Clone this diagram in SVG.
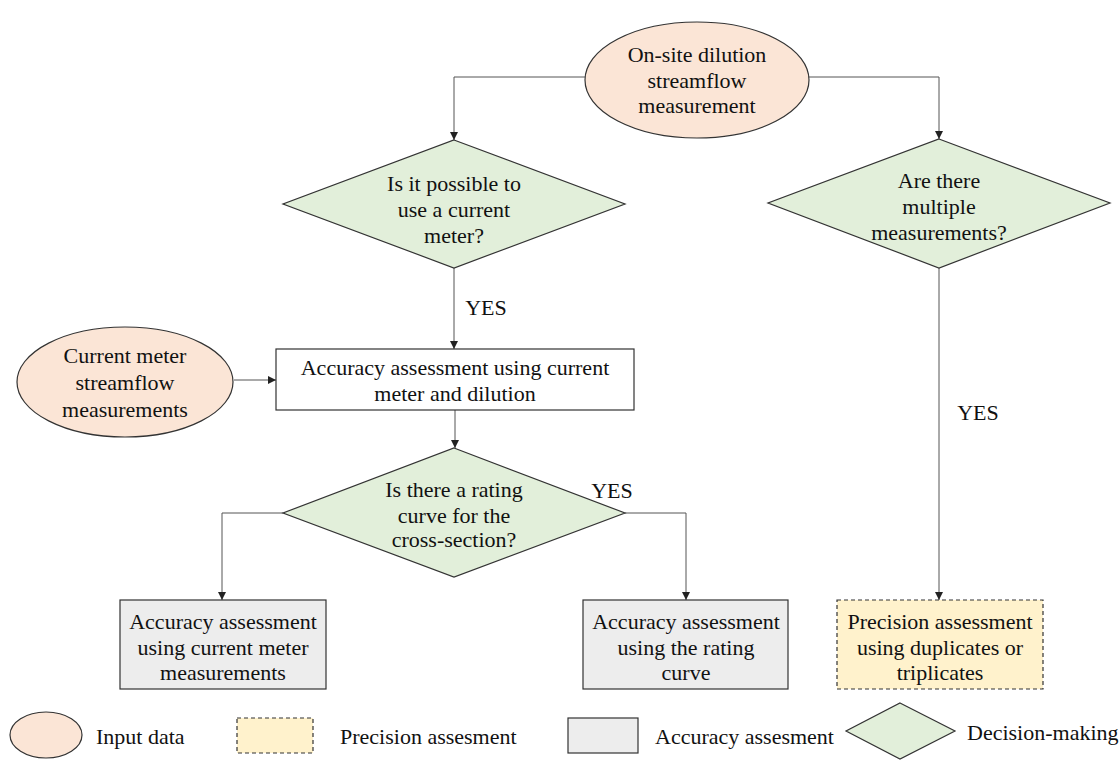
<svg xmlns="http://www.w3.org/2000/svg" width="1120" height="760" viewBox="0 0 1120 760">
<defs>
<marker id="arr" viewBox="0 0 10 10" refX="10" refY="5" markerWidth="8" markerHeight="8" markerUnits="userSpaceOnUse" orient="auto">
<path d="M0,0 L10,5 L0,10 z" fill="#222"/>
</marker>
<style>
.t{font-family:"Liberation Serif","Times New Roman",serif;font-size:22px;fill:#111;text-anchor:middle;dominant-baseline:central}
.l{font-family:"Liberation Serif","Times New Roman",serif;font-size:22px;fill:#111;dominant-baseline:central}
.inp{fill:#FBE5D6;stroke:#333;stroke-width:1.2}
.dec{fill:#E2EFDA;stroke:#333;stroke-width:1.2}
.acc{fill:#EDEDED;stroke:#333;stroke-width:1.2}
.pre{fill:#FFF2CC;stroke:#333;stroke-width:1.2;stroke-dasharray:4 3}
.box{fill:#fff;stroke:#333;stroke-width:1.2}
.c{fill:none;stroke:#555;stroke-width:1}
</style>
</defs>
<rect width="1120" height="760" fill="#fff"/>

<g id="connectors">
<path class="c" d="M585,77 H454 V140" marker-end="url(#arr)"/>
<path class="c" d="M808,77 H939 V139" marker-end="url(#arr)"/>
<path class="c" d="M454,268 V349" marker-end="url(#arr)"/>
<path class="c" d="M234,380 H276" marker-end="url(#arr)"/>
<path class="c" d="M455,410 V448" marker-end="url(#arr)"/>
<path class="c" d="M283,513 H222 V600" marker-end="url(#arr)"/>
<path class="c" d="M625,513 H686 V600" marker-end="url(#arr)"/>
<path class="c" d="M939,268 V600" marker-end="url(#arr)"/>
<text class="t" x="486" y="307">YES</text>
<text class="t" x="612" y="490">YES</text>
<text class="t" x="978" y="412">YES</text>
</g>

<g id="onsite">
<ellipse class="inp" cx="697" cy="80" rx="112" ry="58"/>
<text class="t" x="697" y="54">On-site dilution</text>
<text class="t" x="697" y="80">streamflow</text>
<text class="t" x="697" y="105">measurement</text>
</g>

<g id="q-current-meter">
<polygon class="dec" points="454,140 625,204 454,268 283,204"/>
<text class="t" x="454" y="183">Is it possible to</text>
<text class="t" x="454" y="209">use a current</text>
<text class="t" x="454" y="235">meter?</text>
</g>

<g id="q-multiple">
<polygon class="dec" points="939,139 1110,203 939,268 768,203"/>
<text class="t" x="939" y="180">Are there</text>
<text class="t" x="939" y="206">multiple</text>
<text class="t" x="939" y="232">measurements?</text>
</g>

<g id="current-meter-input">
<ellipse class="inp" cx="125" cy="382" rx="108" ry="55"/>
<text class="t" x="125" y="355">Current meter</text>
<text class="t" x="125" y="382">streamflow</text>
<text class="t" x="125" y="409">measurements</text>
</g>

<g id="acc-cm-dilution">
<rect class="box" x="276" y="349" width="358" height="61"/>
<text class="t" x="455" y="367">Accuracy assessment using current</text>
<text class="t" x="455" y="393">meter and dilution</text>
</g>

<g id="q-rating">
<polygon class="dec" points="454,448 625,513 454,577 283,513"/>
<text class="t" x="454" y="489">Is there a rating</text>
<text class="t" x="454" y="515">curve for the</text>
<text class="t" x="454" y="539">cross-section?</text>
</g>

<g id="acc-cm">
<rect class="acc" x="120" y="600" width="206" height="89"/>
<text class="t" x="223" y="621">Accuracy assessment</text>
<text class="t" x="223" y="647">using current meter</text>
<text class="t" x="223" y="672">measurements</text>
</g>

<g id="acc-rating">
<rect class="acc" x="583" y="600" width="205" height="89"/>
<text class="t" x="686" y="621">Accuracy assessment</text>
<text class="t" x="686" y="647">using the rating</text>
<text class="t" x="686" y="672">curve</text>
</g>

<g id="precision">
<rect class="pre" x="837" y="600" width="206" height="89"/>
<text class="t" x="940" y="621">Precision assessment</text>
<text class="t" x="940" y="647">using duplicates or</text>
<text class="t" x="940" y="672">triplicates</text>
</g>

<g id="legend">
<ellipse class="inp" cx="46" cy="735" rx="36" ry="23"/>
<text class="l" x="96" y="736">Input data</text>
<rect class="pre" x="237" y="718" width="76" height="35"/>
<text class="l" x="340" y="736">Precision assesment</text>
<rect class="acc" x="568" y="718" width="70" height="35"/>
<text class="l" x="655" y="736">Accuracy assesment</text>
<polygon class="dec" points="900,703 955,731 900,759 846,731"/>
<text class="l" x="967" y="732">Decision-making</text>
</g>
</svg>
